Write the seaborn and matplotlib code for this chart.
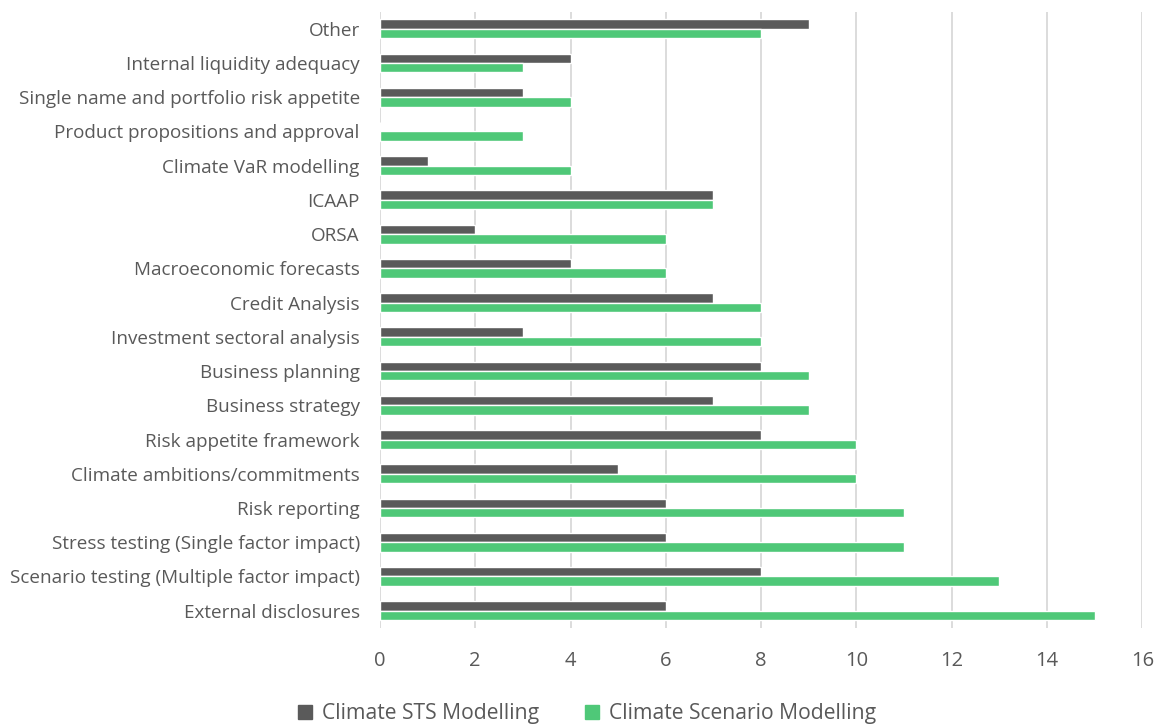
import pandas as pd
import numpy as np
import matplotlib.pyplot as plt
import seaborn as sns
from matplotlib.lines import Line2D

# data, top to bottom as shown in the chart
categories = [
    "Other",
    "Internal liquidity adequacy",
    "Single name and portfolio risk appetite",
    "Product propositions and approval",
    "Climate VaR modelling",
    "ICAAP",
    "ORSA",
    "Macroeconomic forecasts",
    "Credit Analysis",
    "Investment sectoral analysis",
    "Business planning",
    "Business strategy",
    "Risk appetite framework",
    "Climate ambitions/commitments",
    "Risk reporting",
    "Stress testing (Single factor impact)",
    "Scenario testing (Multiple factor impact)",
    "External disclosures",
]
sts_values = [9, 4, 3, 0, 1, 7, 2, 4, 7, 3, 8, 7, 8, 5, 6, 6, 8, 6]
scenario_values = [8, 3, 4, 3, 4, 7, 6, 6, 8, 8, 9, 9, 10, 10, 11, 11, 13, 15]
series_names = ["Climate STS Modelling", "Climate Scenario Modelling"]

df = pd.DataFrame({
    "Category": categories * 2,
    "Value": sts_values + scenario_values,
    "Series": [series_names[0]] * len(categories) + [series_names[1]] * len(categories),
})

colors = ["#5a5a5a", "#4fc878"]
text_col = "#595959"

sns.set_style("white")
plt.rcParams['font.family'] = ['Open Sans', 'DejaVu Sans']

fig = plt.figure(figsize=(11.63, 7.25), dpi=100)
ax = fig.add_axes([0.3267, 0.134, 0.6555, 0.85])

sns.barplot(data=df, x="Value", y="Category", hue="Series", orient="h",
            palette=colors, width=0.55, order=categories, hue_order=series_names,
            ax=ax, legend=False, saturation=1)

ax.set_xlim(0, 16)
ax.set_xticks(np.arange(0, 17, 2))
ax.set_ylim(len(categories) - 0.5, -0.5)
ax.set_xlabel("")
ax.set_ylabel("")
ax.xaxis.grid(True, color="#d9d9d9", linewidth=1.3)
ax.set_axisbelow(True)
for s in ax.spines.values():
    s.set_visible(False)
ax.tick_params(axis="x", labelsize=14.5, colors=text_col, length=0, pad=17)
ax.tick_params(axis="y", labelsize=13.6, colors=text_col, length=0, pad=14.5)

handles = [Line2D([0], [0], marker="s", linestyle="", markersize=10,
                  markerfacecolor=c, markeredgecolor=c) for c in colors]
leg = fig.legend(handles, series_names, loc="lower center", ncol=2, frameon=False,
                 bbox_to_anchor=(0.503, -0.025), fontsize=15.2, handletextpad=0.3,
                 columnspacing=2.0, handlelength=1.0)
for t in leg.get_texts():
    t.set_color(text_col)

fig.savefig("out.png", dpi=100)
